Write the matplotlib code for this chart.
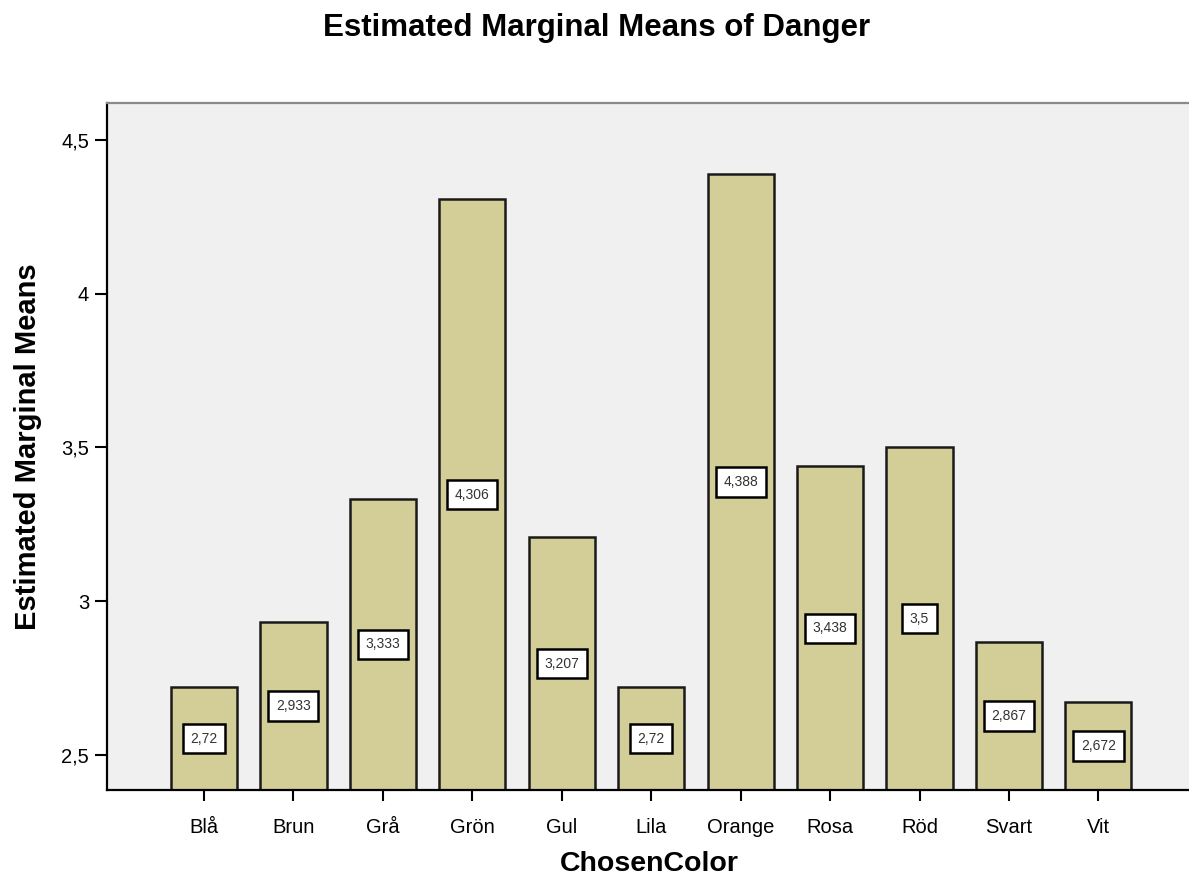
import matplotlib
matplotlib.use("Agg")
import matplotlib.pyplot as plt
from matplotlib.ticker import FuncFormatter

colors = ["Blå", "Brun", "Grå", "Grön", "Gul", "Lila", "Orange", "Rosa", "Röd", "Svart", "Vit"]
means = [2.72, 2.933, 3.333, 4.306, 3.207, 2.72, 4.388, 3.438, 3.5, 2.867, 2.672]
labels = ["2,72", "2,933", "3,333", "4,306", "3,207", "2,72", "4,388", "3,438", "3,5", "2,867", "2,672"]
yticks = [2.5, 3, 3.5, 4, 4.5]

plt.rcParams['font.family'] = ['Liberation Sans', 'DejaVu Sans']

fig = plt.figure(figsize=(11.89, 8.81), dpi=100)
ax = fig.add_axes([0.090, 0.1033, 0.912, 0.780])
ax.set_facecolor("#f0f0f0")

ymin, ymax = 2.386, 4.62
x = list(range(len(colors)))
ax.bar(x, [m - ymin for m in means], bottom=ymin, width=0.74,
       color="#d3ce97", edgecolor="#1a1a1a", linewidth=1.8, zorder=2)

# value boxes sit halfway up the visible part of each bar
for xi, m, lab in zip(x, means, labels):
    ax.text(xi, (m + ymin) / 2, lab, ha="center", va="center", fontsize=10,
            color="#333333", zorder=3,
            bbox=dict(boxstyle="square,pad=0.55", facecolor="white",
                      edgecolor="black", linewidth=1.8))

ax.set_xlim(-1.085, 11.04)
ax.set_ylim(ymin, ymax)
ax.set_xticks(x)
ax.set_xticklabels(colors, fontsize=14.5)
ax.set_yticks(yticks)
ax.yaxis.set_major_formatter(FuncFormatter(lambda v, p: ("%g" % v).replace(".", ",")))
ax.tick_params(axis="y", labelsize=14.5, length=9, width=1.5, direction="out", pad=4)
ax.tick_params(axis="x", length=8, width=1.5, direction="out", pad=12)

for s in ["left", "bottom"]:
    ax.spines[s].set_color("black")
    ax.spines[s].set_linewidth(1.6)
ax.spines["top"].set_color("#8a8a8a")
ax.spines["top"].set_linewidth(1.6)
ax.spines["right"].set_visible(False)

ax.set_xlabel("ChosenColor", fontsize=20.5, fontweight="bold", labelpad=10)
ax.set_ylabel("Estimated Marginal Means", fontsize=21, fontweight="bold", labelpad=14)
fig.text(0.502, 0.968, "Estimated Marginal Means of Danger", ha="center", va="center",
         fontsize=22.5, fontweight="bold")

fig.savefig("out.png", dpi=100)
